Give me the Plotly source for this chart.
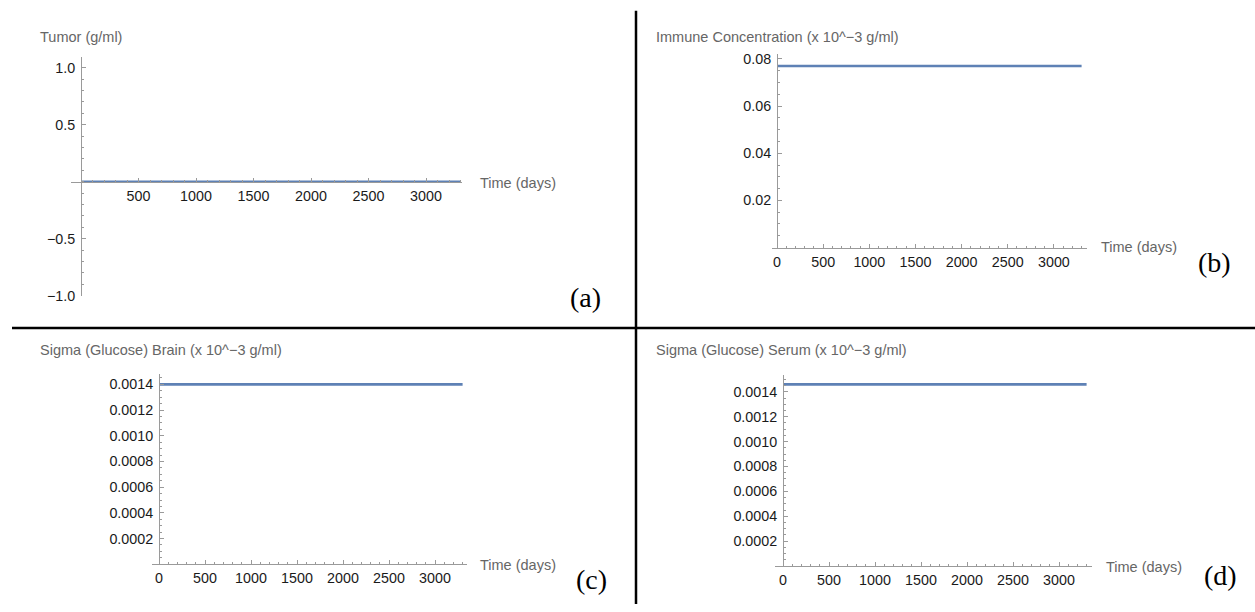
import plotly.graph_objects as go

# ---------------- data ----------------
time_days = [0, 500, 1000, 1500, 2000, 2500, 3000, 3300]
tumor = [0.0, 0.0, 0.0, 0.0, 0.0, 0.0, 0.0, 0.0]
immune = [0.077, 0.077, 0.077, 0.077, 0.077, 0.077, 0.077, 0.077]
glucose_brain = [0.0014, 0.0014, 0.0014, 0.0014, 0.0014, 0.0014, 0.0014, 0.0014]
glucose_serum = [0.00146, 0.00146, 0.00146, 0.00146, 0.00146, 0.00146, 0.00146, 0.00146]

x_ticks_a = [500, 1000, 1500, 2000, 2500, 3000]
x_ticks = [0, 500, 1000, 1500, 2000, 2500, 3000]
y_ticks_a = [-1.0, -0.5, 0.5, 1.0]
y_ticktext_a = ["\u22121.0", "\u22120.5", "0.5", "1.0"]
y_ticks_b = [0.02, 0.04, 0.06, 0.08]
y_ticks_cd = [0.0002, 0.0004, 0.0006, 0.0008, 0.0010, 0.0012, 0.0014]

y_titles = ["Tumor (g/ml)",
            "Immune Concentration (x 10^\u22123 g/ml)",
            "Sigma (Glucose) Brain (x 10^\u22123 g/ml)",
            "Sigma (Glucose) Serum (x 10^\u22123 g/ml)"]
x_title = "Time (days)"
panel_tags = ["(a)", "(b)", "(c)", "(d)"]

# ---------------- layout geometry (pixels) ----------------
W, H = 1255, 612
def px_x(p): return p / W
def px_y(p): return 1 - p / H

LINE = "#5E81B5"
AXIS = "#9a9a9a"
TICKFONT = dict(family="Liberation Sans, Arial, sans-serif", size=14.3, color="#1a1a1a")
LABFONT = dict(family="Liberation Sans, Arial, sans-serif", size=14.5, color="#666666")
TAGFONT = dict(family="Liberation Serif, Times New Roman, serif", size=28, color="#000000")

panels = [
    dict(x0=81, xs=71, xe=462, ppx=0.115, yt=55, yb=298, yz=182, ppy=116.0,
         series=tumor, xt=x_ticks_a, yt_vals=y_ticks_a, yt_text=y_ticktext_a, ymin=0.1,
         title_xy=(38, 35), xlab_xy=(478, 183), tag_xy=(585, 300)),
    dict(x0=777, xs=772, xe=1087, ppx=0.0923, yt=52, yb=249, yz=249, ppy=2400.0,
         series=immune, xt=x_ticks, yt_vals=y_ticks_b, yt_text=[f"{v:.2f}" for v in y_ticks_b], ymin=0.005,
         title_xy=(654, 35), xlab_xy=(1099, 248), tag_xy=(1214, 264)),
    dict(x0=159, xs=152, xe=467, ppx=0.092, yt=378, yb=571.5, yz=571.5, ppy=130800.0,
         series=glucose_brain, xt=x_ticks, yt_vals=y_ticks_cd, yt_text=[f"{v:.4f}" for v in y_ticks_cd], ymin=0.00005,
         title_xy=(38, 353), xlab_xy=(478, 572), tag_xy=(591, 587)),
    dict(x0=783, xs=775, xe=1092, ppx=0.092, yt=379, yb=573.3, yz=573.3, ppy=126700.0,
         series=glucose_serum, xt=x_ticks, yt_vals=y_ticks_cd, yt_text=[f"{v:.4f}" for v in y_ticks_cd], ymin=0.00005,
         title_xy=(654, 353), xlab_xy=(1104, 574), tag_xy=(1220, 583)),
]

fig = go.Figure()
annotations = []
layout_axes = {}
for i, p in enumerate(panels):
    n = "" if i == 0 else str(i + 1)
    fig.add_trace(go.Scatter(x=time_days, y=p["series"], mode="lines",
                             line=dict(color=LINE, width=2.6),
                             xaxis="x" + n, yaxis="y" + n, showlegend=False,
                             hoverinfo="skip"))
    xr = [(p["xs"] - p["x0"]) / p["ppx"], (p["xe"] - p["x0"]) / p["ppx"]]
    yr = [(p["yz"] - p["yb"]) / p["ppy"], (p["yz"] - p["yt"]) / p["ppy"]]
    layout_axes["xaxis" + n] = dict(
        domain=[px_x(p["xs"]), px_x(p["xe"])], range=xr, anchor="free",
        position=px_y(p["yz"]), showgrid=False, zeroline=False,
        showline=True, linecolor=AXIS, linewidth=1,
        ticks="inside", ticklen=4, tickcolor=AXIS, tickwidth=1,
        tickmode="array", tickvals=p["xt"], ticktext=[str(v) for v in p["xt"]],
        tickfont=TICKFONT, ticklabelstandoff=1,
        minor=dict(tickmode="linear", tick0=0, dtick=100, ticks="inside",
                   ticklen=2, tickcolor=AXIS, tickwidth=1, showgrid=False),
        fixedrange=True)
    layout_axes["yaxis" + n] = dict(
        domain=[px_y(p["yb"]), px_y(p["yt"])], range=yr, anchor="free",
        position=px_x(p["x0"]), showgrid=False, zeroline=False,
        showline=True, linecolor=AXIS, linewidth=1,
        ticks="inside", ticklen=4, tickcolor=AXIS, tickwidth=1,
        tickmode="array", tickvals=p["yt_vals"], ticktext=p["yt_text"],
        tickfont=TICKFONT, ticklabelstandoff=3,
        minor=dict(tickmode="linear", tick0=0, dtick=p["ymin"], ticks="inside",
                   ticklen=2, tickcolor=AXIS, tickwidth=1, showgrid=False),
        fixedrange=True)
    tx, ty = p["title_xy"]
    annotations.append(dict(text=y_titles[i], x=px_x(tx), y=px_y(ty), xref="paper", yref="paper",
                            xanchor="left", yanchor="middle", showarrow=False, font=LABFONT))
    lx, ly = p["xlab_xy"]
    annotations.append(dict(text=x_title, x=px_x(lx), y=px_y(ly), xref="paper", yref="paper",
                            xanchor="left", yanchor="middle", showarrow=False, font=LABFONT))
    gx, gy = p["tag_xy"]
    annotations.append(dict(text=panel_tags[i], x=px_x(gx), y=px_y(gy), xref="paper", yref="paper",
                            xanchor="center", yanchor="middle", showarrow=False, font=TAGFONT))

shapes = [
    dict(type="line", xref="paper", yref="paper", x0=px_x(636), x1=px_x(636), y0=px_y(8), y1=0,
         line=dict(color="#000000", width=2.5)),
    dict(type="line", xref="paper", yref="paper", x0=px_x(12), x1=1, y0=px_y(331), y1=px_y(331),
         line=dict(color="#000000", width=2.5)),
]

fig.update_layout(width=W, height=H, margin=dict(l=0, r=0, t=0, b=0),
                  paper_bgcolor="white", plot_bgcolor="white",
                  annotations=annotations, shapes=shapes, **layout_axes)
fig.write_html("out.html", config={"displayModeBar": False})
